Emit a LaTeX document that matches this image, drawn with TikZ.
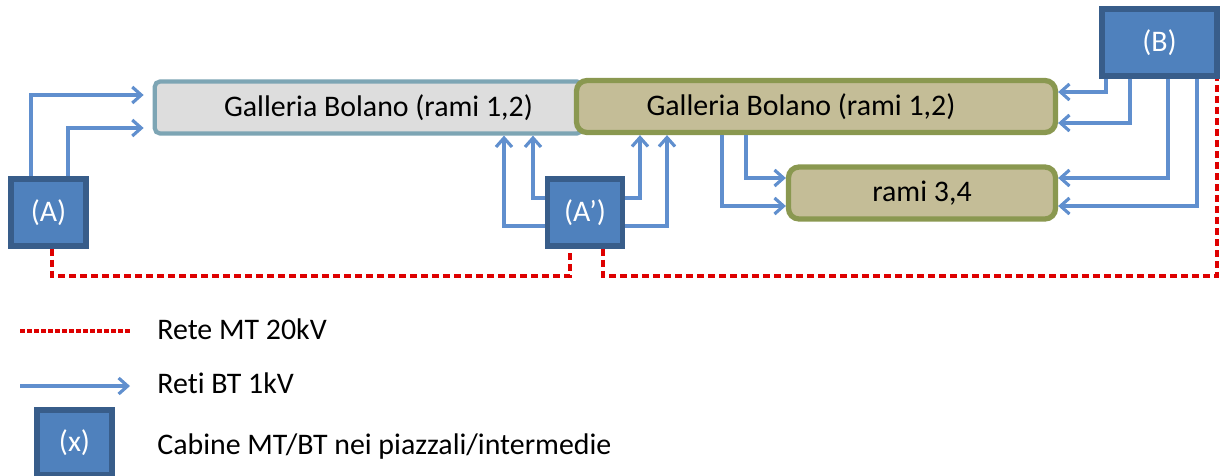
\documentclass[tikz,border=0pt]{standalone}
\usepackage{fontspec}
\setmainfont[Ligatures={TeX,NoCommon}]{Carlito}
\definecolor{bluCabina}{RGB}{79,129,189}
\definecolor{bordoCabina}{RGB}{56,93,138}
\definecolor{bluBT}{RGB}{96,143,206}
\definecolor{rossoMT}{RGB}{222,0,0}
\definecolor{tanGalleria}{RGB}{196,189,151}
\definecolor{olivaGalleria}{RGB}{138,152,80}
\definecolor{grigioGalleria}{RGB}{221,221,221}
\definecolor{azzurroBordo}{RGB}{125,165,180}
\usetikzlibrary{arrows.meta,positioning,calc}

\begin{document}
\begin{tikzpicture}[x=0.2mm,y=-0.2mm,
        cab/.style={rectangle,draw=bordoCabina,fill=bluCabina,line width=3pt,
                    text=white,font=\fontsize{17}{20}\selectfont,inner sep=0pt,
                    minimum width=1.5cm,minimum height=1.34cm},
        gal/.style={rectangle,rounded corners=6pt,draw=olivaGalleria,fill=tanGalleria,
                    line width=3pt,font=\fontsize{17}{20}\selectfont,inner sep=0pt,
                    minimum height=1.04cm},
        galgr/.style={gal,rounded corners=3pt,draw=azzurroBordo,fill=grigioGalleria,
                      line width=2.4pt},
        bt/.style={-{Straight Barb[length=1.8mm,width=3.2mm]},draw=bluBT,line width=1.8pt},
        mt/.style={draw=rossoMT,line width=2.2pt,dash pattern=on 1.4mm off 0.8mm},
        leg/.style={anchor=west,inner sep=0pt,font=\fontsize{17}{20}\selectfont}]
        \useasboundingbox (0,0) rectangle (1222,475);
        % cabine MT/BT
        \node[cab] (A)  at (48.5,212.5) {(A)};
        \node[cab] (Ap) at (585,212.5)  {(A')};
        \node[cab,minimum width=2.3cm] (B) at (1159.5,42.5) {(B)};
        % gallerie
        \node[galgr,minimum width=8.55cm] (galL) at (368.5,107.5) {\raisebox{-2pt}{\hspace*{0.4cm}Galleria Bolano (rami 1,2)}};
        \node[gal,minimum width=9.58cm]   (galR) at (816,106.5)   {\raisebox{-2pt}{Galleria Bolano (rami 1,2)\hspace*{0.6cm}}};
        \node[gal,minimum width=5.34cm]   (rami) at (922,193)     {\raisebox{-2pt}{rami 3,4}};
        % reti BT 1kV
        \draw[bt,shorten >=1.8mm] (A.north -| 31,0) |- (galL.west |- 0,95);
        \draw[bt,shorten >=1.8mm] (A.north -| 68,0) |- (galL.west |- 0,128);
        \draw[bt] (Ap.west |- 0,226) -| (galL.south -| 504,0);
        \draw[bt] (Ap.west |- 0,198) -| (galL.south -| 533,0);
        \draw[bt] (Ap.east |- 0,198) -| (galR.south -| 640,0);
        \draw[bt] (Ap.east |- 0,226) -| (galR.south -| 667,0);
        \draw[bt] (galR.south -| 746,0) |- (rami.west |- 0,178);
        \draw[bt] (galR.south -| 722,0) |- (rami.west |- 0,206);
        \draw[bt] (B.south -| 1106,0) |- (galR.east |- 0,92);
        \draw[bt] (B.south -| 1130,0) |- (galR.east |- 0,123);
        \draw[bt] (B.south -| 1168,0) |- (rami.east |- 0,178);
        \draw[bt] (B.south -| 1197,0) |- (rami.east |- 0,206);
        % rete MT 20kV
        \draw[mt] (A.south -| 52,0) -- ++(0,27) -| (Ap.south -| 570,0);
        \draw[mt] (Ap.south -| 603,0) -- ++(0,27) -| (B.south -| 1217,0);
        % legenda
        \coordinate (mtA) at (20,331);
        \coordinate (mtB) at (130,331);
        \coordinate (btA) at (20,386);
        \coordinate (btB) at (130,386);
        \draw[mt,dash pattern=on 1mm off 0.4mm] (mtA) -- (mtB);
        \draw[bt] (btA) -- (btB);
        \node[cab,minimum height=1.3cm] (cabX) at (74.5,442.5) {(x)};
        \node[leg] (legMT)  at (157,329) {Rete MT 20kV};
        \node[leg] (legBT)  at (157,383) {Reti BT 1kV};
        \node[leg] (legCab) at (157,447) {Cabine MT/BT nei piazzali/intermedie};
\end{tikzpicture}
\end{document}
